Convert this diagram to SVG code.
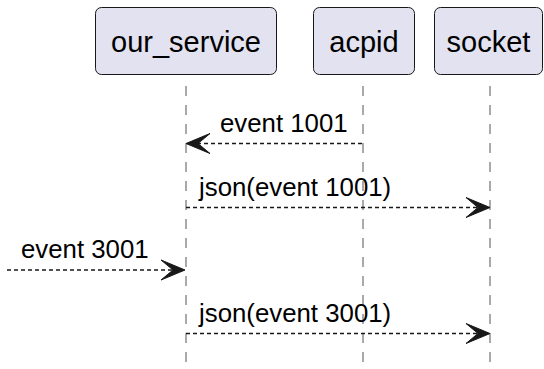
<svg xmlns="http://www.w3.org/2000/svg" width="544" height="369" viewBox="0 0 544 369">
<defs>
<style>
.box{fill:#E2E2F0;stroke:#181818;stroke-width:1}
.pt{font-family:"Liberation Sans",Arial,sans-serif;font-size:29px;fill:#000;text-anchor:middle}
.mt{font-family:"Liberation Sans",Arial,sans-serif;font-size:25.8px;fill:#000}
.life{stroke:#555;stroke-width:1;stroke-dasharray:10,9;fill:none}
.msg{stroke:#181818;stroke-width:1.6;stroke-dasharray:4,3;fill:none}
.head{fill:#181818;stroke:#181818;stroke-width:1}
</style>
</defs>
<rect width="544" height="369" fill="#fff"/>
<g id="lifelines">
<line class="life" x1="186" y1="86" x2="186" y2="369"/>
<line class="life" x1="363" y1="86" x2="363" y2="369"/>
<line class="life" x1="490" y1="86" x2="490" y2="369"/>
</g>
<g id="our_service">
<rect class="box" x="95.5" y="7.5" width="181" height="67" rx="6"/>
<text class="pt" x="186" y="52">our_service</text>
</g>
<g id="acpid">
<rect class="box" x="313.5" y="7.5" width="101" height="67" rx="6"/>
<text class="pt" x="364" y="52">acpid</text>
</g>
<g id="socket">
<rect class="box" x="434.5" y="7.5" width="108" height="67" rx="6"/>
<text class="pt" x="488.5" y="52">socket</text>
</g>
<g id="connectors">
<line class="msg" x1="362" y1="143.5" x2="190" y2="143.5"/>
<polygon class="head" points="186,143.5 210,133.5 198,143.5 210,153.5"/>
<text class="mt" x="220" y="132">event 1001</text>

<line class="msg" x1="186" y1="207.5" x2="486" y2="207.5"/>
<polygon class="head" points="490,207.5 466,197.5 478,207.5 466,217.5"/>
<text class="mt" x="199" y="196">json(event 1001)</text>

<line class="msg" x1="7" y1="270" x2="181" y2="270"/>
<polygon class="head" points="185,270 161,260 173,270 161,280"/>
<text class="mt" x="21" y="258">event 3001</text>

<line class="msg" x1="186" y1="333.5" x2="486" y2="333.5"/>
<polygon class="head" points="490,333.5 466,323.5 478,333.5 466,343.5"/>
<text class="mt" x="199" y="322">json(event 3001)</text>
</g>
</svg>
